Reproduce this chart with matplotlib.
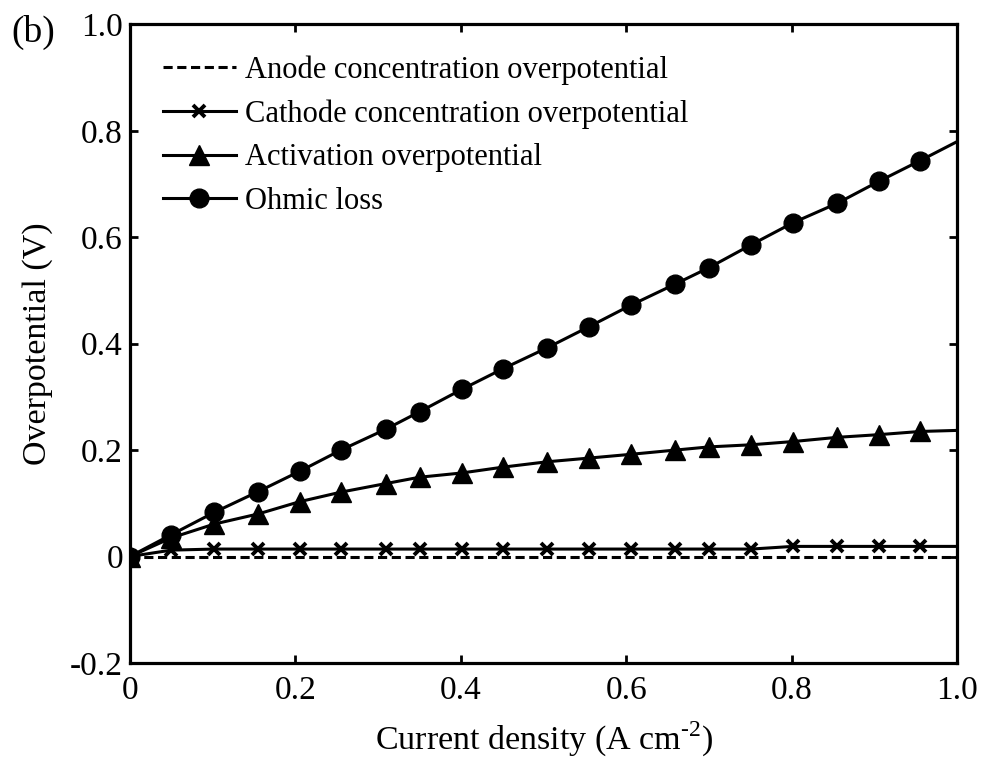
import matplotlib
matplotlib.use('Agg')
import matplotlib.pyplot as plt

plt.rcParams['font.family'] = ['Liberation Serif', 'DejaVu Serif']
plt.rcParams['mathtext.fontset'] = 'custom'
plt.rcParams['mathtext.rm'] = 'Liberation Serif'
plt.rcParams['font.size'] = 24

# current density (A cm^-2)
current = [0.0, 0.05, 0.102, 0.155, 0.205, 0.255, 0.309, 0.35, 0.401, 0.451, 0.504,
           0.555, 0.605, 0.659, 0.70, 0.751, 0.801, 0.855, 0.905, 0.955, 1.0]

anode = [0.0, 0.0, 0.0, 0.0, 0.0, 0.0, 0.0, 0.0, 0.0, 0.0, 0.0,
         0.0, 0.0, 0.0, 0.0, 0.0, 0.0, 0.0, 0.0, 0.0, 0.0]
cathode = [0.0, 0.012, 0.014, 0.014, 0.014, 0.014, 0.014, 0.014, 0.014, 0.014, 0.014,
           0.014, 0.014, 0.014, 0.014, 0.014, 0.019, 0.019, 0.019, 0.019, 0.019]
activation = [0.0, 0.035, 0.061, 0.080, 0.103, 0.121, 0.137, 0.149, 0.157, 0.168, 0.178,
              0.185, 0.192, 0.200, 0.206, 0.210, 0.216, 0.224, 0.229, 0.235, 0.237]
ohmic = [0.0, 0.041, 0.083, 0.122, 0.160, 0.200, 0.239, 0.272, 0.314, 0.353, 0.392,
         0.432, 0.472, 0.512, 0.543, 0.586, 0.627, 0.664, 0.705, 0.744, 0.780]

labels = ['Anode concentration overpotential', 'Cathode concentration overpotential',
          'Activation overpotential', 'Ohmic loss']

xticks = [0, 0.2, 0.4, 0.6, 0.8, 1.0]
xticklabels = ['0', '0.2', '0.4', '0.6', '0.8', '1.0']
yticks = [-0.2, 0, 0.2, 0.4, 0.6, 0.8, 1.0]
yticklabels = ['-0.2', '0', '0.2', '0.4', '0.6', '0.8', '1.0']

fig = plt.figure(figsize=(9.84, 7.62), dpi=100)
ax = fig.add_axes([0.132, 0.130, 0.841, 0.838])

mk = list(range(len(current) - 1))  # no marker on the last point
ax.plot(current, anode, 'k', ls=(0, (3, 1.5)), lw=2.2, label=labels[0])
ax.plot(current, cathode, 'k-', lw=2.2, marker='x', ms=8, mew=2.8, markevery=mk, label=labels[1])
ax.plot(current, activation, 'k-', lw=2.2, marker='^', ms=15, markevery=mk, label=labels[2])
ax.plot(current, ohmic, 'k-', lw=2.2, marker='o', ms=13.5, markevery=mk, label=labels[3])

ax.set_xlim(0, 1.0)
ax.set_ylim(-0.2, 1.0)
ax.set_xticks(xticks)
ax.set_xticklabels(xticklabels)
ax.set_yticks(yticks)
ax.set_yticklabels(yticklabels)
ax.tick_params(direction='in', length=6, width=2, top=True, right=True, labelsize=24)
ax.tick_params(axis='x', pad=9)
ax.tick_params(axis='y', pad=5)
for s in ax.spines.values():
    s.set_linewidth(2.3)

ax.set_xlabel(r'Current density (A cm$^{\text{-2}}$)', fontsize=24.5, labelpad=10)
ax.set_ylabel('Overpotential (V)', fontsize=24.5, labelpad=12)

ax.legend(loc='upper left', bbox_to_anchor=(0.025, 0.971), frameon=False, fontsize=22,
          handlelength=2.4, handletextpad=0.3, labelspacing=0.48, borderaxespad=0)

fig.text(0.012, 0.945, '(b)', fontsize=27)

fig.savefig('out.png', dpi=100)
